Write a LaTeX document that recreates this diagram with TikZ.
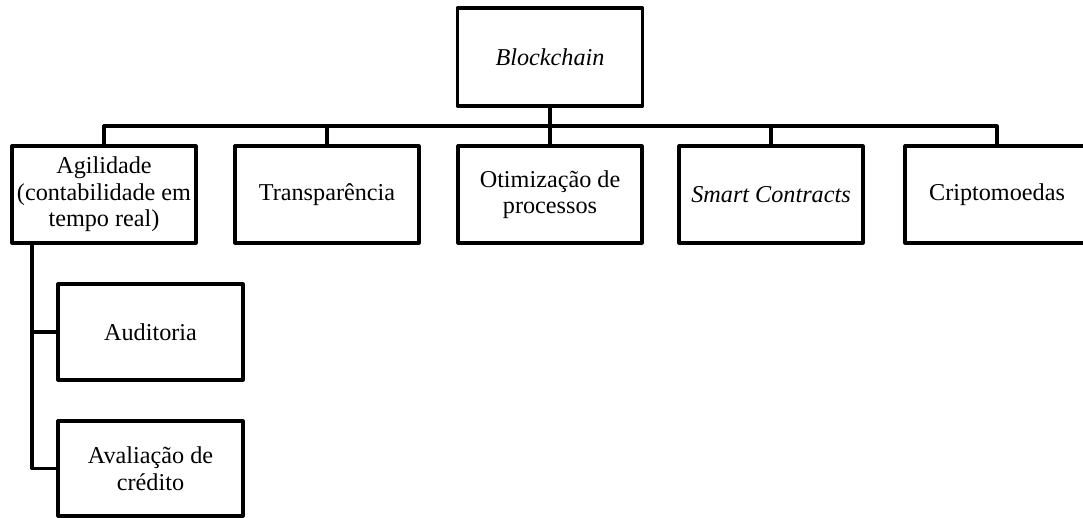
\documentclass[tikz,border=0pt]{standalone}
\usepackage{fontspec}
\setmainfont{Liberation Serif}
\begin{document}
\begin{tikzpicture}[x=1pt,y=-1pt,
  box/.style={draw, line width=3.2pt, line join=round, rectangle, inner sep=0pt,
    minimum width=184pt, minimum height=97pt, align=center,
    font=\fontsize{24.2}{26.5}\selectfont},
  link/.style={line width=3.2pt, line join=round}]
\useasboundingbox (0,0) rectangle (1083,518);
\node[box, minimum width=185pt, minimum height=98pt] (block) at (550,57) {\textit{Blockchain}};
\node[box] (agil) at (104,194.5) {Agilidade\\(contabilidade em\\tempo real)};
\node[box] (trans) at (327,194.5) {Transparência};
\node[box] (otim) at (550,194.5) {Otimização de\\processos};
\node[box] (smart) at (771,194.5) {\textit{Smart Contracts}};
\node[box] (cripto) at (997,194.5) {Criptomoedas};
\node[box, minimum width=185pt, minimum height=96pt] (audit) at (150.5,332) {Auditoria};
\node[box, minimum width=185pt, minimum height=95pt] (aval) at (150.5,468.5) {Avaliação de\\crédito};
\coordinate (bus) at (0,126);
\coordinate (vx) at (32,0);
\draw[link] (agil.north) -- (agil.north |- bus) -- (cripto.north |- bus) -- (cripto.north);
\draw[link] (block.south) -- (otim.north);
\draw[link] (trans.north) -- (trans.north |- bus);
\draw[link] (smart.north) -- (smart.north |- bus);
\draw[link] (vx |- agil.south) -- (vx |- aval.west) -- (aval.west);
\draw[link] (vx |- audit.west) -- (audit.west);
\end{tikzpicture}
\end{document}
